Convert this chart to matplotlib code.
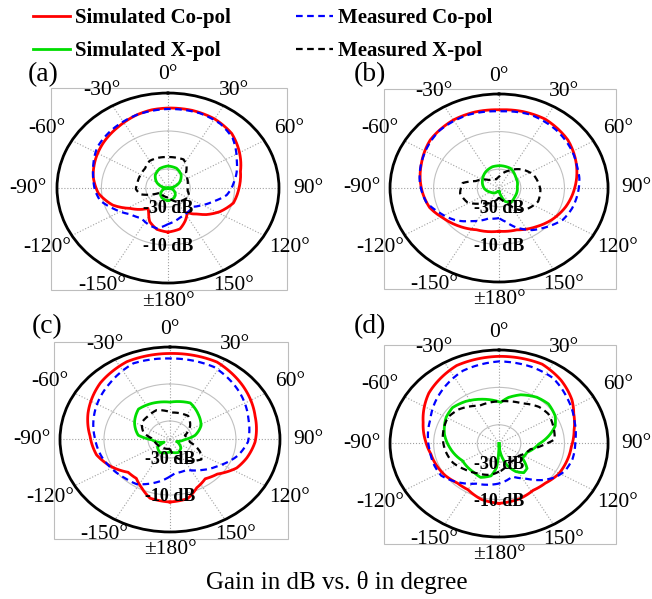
import numpy as np
import matplotlib
matplotlib.use("Agg")
import matplotlib.pyplot as plt
from matplotlib.lines import Line2D
from matplotlib.patches import Rectangle

plt.rcParams['font.family'] = 'serif'
plt.rcParams['font.serif'] = ['Liberation Serif', 'DejaVu Serif']

# angles in degree (0 = broadside, clockwise positive), gain in dB
# ---- (a)
a_sim_co_ang = [-180, -167, -155, -146, -140, -133, -122, -110, -95, -80, -65, -50, -35, -20, -10, 0,
                15, 30, 45, 60, 75, 90, 105, 118, 129, 136, 141, 146, 156, 166, 180]
a_sim_co_db = [-16.8, -17.7, -20.5, -24.5, -26, -23.5, -19.8, -13.6, -8.5, -5.8, -4.0, -2.3, -0.8, 1.0, 1.8, 2.1,
               2.3, 2.0, 0.6, -2.8, -6.2, -8.0, -9.5, -13.5, -17.8, -21, -22.5, -24.5, -21, -17.8, -16.8]
a_meas_co_ang = [-180, -167, -158, -143, -129, -114, -102, -92, -80, -70, -56, -40, -20, 0,
                 20, 35, 48, 64, 76, 84, 92, 98, 109, 120, 131, 145, 160, 170, 180]
a_meas_co_db = [-21, -18.2, -18.6, -20.1, -18.1, -13.2, -8.7, -7.1, -5.8, -4.2, -1.6, -0.3, 1.0, 1.6,
                1.9, 1.2, -0.8, -5.6, -8.2, -10.1, -11.8, -13.3, -18.4, -22, -25, -24.5, -23.6, -22.3, -21]
a_sim_x_ang = [-180, -160, -140, -120, -100, -90, -75, -60, -40, -20, 0, 20, 40, 60, 75, 90, 100, 120, 140, 160, 180]
a_sim_x_db = [-33.4, -33.8, -34.9, -36.7, -38.8, -40, -37, -34.2, -31.1, -29.1, -28.4, -28.9, -30.8, -34.0,
              -37, -40, -38.8, -36.7, -34.9, -33.8, -33.4]
a_meas_x_ang = [-180, -150, -125, -115, -105, -92, -80, -58, -45, -30, -15, 0, 15, 25, 35, 45, 60, 85,
                100, 115, 130, 150, 165, 180]
a_meas_x_db = [-35, -35.5, -36, -32, -27.2, -25.5, -26, -25.8, -25.4, -23.5, -23.5, -23.7, -23.6, -23.4,
               -25.5, -28.5, -30, -31.3, -31, -29.5, -30.5, -31.6, -33.5, -35]

# ---- (b)
b_sim_co_ang = [-180, -155, -137, -122, -108, -93, -70, -51, -30, -15, 0, 15, 30, 51, 72, 90, 108, 125, 140, 160, 180]
b_sim_co_db = [-17, -15.5, -12.5, -9.8, -6.5, -4.7, -2.1, 0.6, 1.8, 1.9, 1.6, 2.1, 2.3, 0.6, -2.6, -5.3,
               -7.8, -10.5, -13.2, -16.3, -17]
b_meas_co_ang = [-180, -163, -145, -130, -115, -103, -85, -65, -42, -20, 0, 20, 40, 60, 72, 82, 95, 108,
                 120, 132, 146, 160, 170, 180]
b_meas_co_db = [-24, -23, -18.5, -13.5, -9.5, -5.8, -3.5, -1.5, 1.0, 1.4, 0.8, 1.6, 0.5, -1.2, -2.4, -2.8,
                -3.8, -4.8, -6.2, -9.5, -13, -17.8, -21.7, -24]
b_sim_x_ang = [-180, -159, -140, -121, -92, -61, -35, -15, 4, 27, 51, 85, 122, 146, 159, 169, 180]
b_sim_x_db = [-38.2, -37.9, -36.5, -35.6, -33.2, -31.3, -29.4, -28.3, -28.1, -28.3, -30.3, -31.6, -31.4,
              -30.6, -32.4, -36.2, -38.2]
b_meas_x_ang = [-180, -160, -137, -118, -99, -81, -71, -47, -15, 0, 26, 47, 66, 93, 112, 128, 142, 153, 165, 180]
b_meas_x_db = [-35, -32, -28.9, -23.6, -21.9, -23.1, -28.7, -33.8, -35.2, -34, -29.7, -25.5, -22.7, -21,
               -20.7, -22.6, -25.2, -30, -33, -35]

# ---- (c)
c_sim_co_ang = [-180, -164, -154, -144, -133, -119, -104, -87, -69, -46, -25, 0, 27, 49, 72, 92, 106, 117,
                131, 143, 155, 166, 180]
c_sim_co_db = [-6.2, -7, -10.8, -14, -14, -9.6, -5.6, -3.6, -0.1, 4, 6.4, 6.5, 7, 4, 0.7, -1.3, -3.7, -6,
               -11.5, -13.4, -11.2, -7, -6.2]
c_meas_co_ang = [-180, -162, -148, -136, -121, -107, -89, -72, -42, -22, 0, 27, 52, 73, 92, 106, 123, 139,
                 155, 173, 180]
c_meas_co_db = [-20, -15.2, -11.5, -10.8, -9.2, -7.6, -5.9, -3.5, 0.9, 4.4, 3.8, 4, 0.5, -2.7, -4.5, -8,
                -13.8, -18.1, -21.9, -21.6, -20]
c_sim_x_ang = [-180, -147, -126, -118, -91, -81, -60, -41, -23, 0, 25, 43, 62, 79, 90, 109, 133, 152, 180]
c_sim_x_db = [-33.3, -31.6, -33, -37, -31.7, -25.4, -21.4, -18.2, -18.8, -19.8, -18.2, -21.2, -24, -28.4,
              -33.2, -36.8, -33.2, -32, -33.3]
c_meas_x_ang = [-180, -150, -121, -100, -85, -72, -54, -38, -21, 3, 33, 51, 72, 99, 116, 127, 142, 166, 180]
c_meas_x_db = [-35, -34.5, -33.8, -33, -31.5, -27.3, -24.2, -23.9, -23, -25.4, -24.8, -28.2, -32.9, -30.8,
               -24.8, -22.1, -25.2, -30.3, -35]

# ---- (d)
d_sim_co_ang = [-180, -165, -150, -138, -125, -112, -100, -88, -72, -50, -25, 0, 25, 40, 55, 65, 78, 93,
                108, 121, 135, 148, 162, 180]
d_sim_co_db = [-8, -9, -11.5, -11.5, -10, -9, -8.2, -6.3, -3.4, 2, 6, 6.6, 6.8, 4.2, 0.8, -2.2, -4.8, -6.8,
               -7.6, -8.2, -10, -10.5, -9, -8]
d_meas_co_ang = [-180, -154, -133, -123, -112, -97, -84, -68, -46, -23, 0, 20, 35, 52, 71, 88, 104, 116,
                 125, 135, 147, 161, 171, 180]
d_meas_co_db = [-18.6, -16.1, -10.8, -8.4, -8.1, -8, -7.2, -6, -2, 2.3, 3.9, 3.6, 2.9, -0.4, -3.4, -5, -5.3,
                -6.4, -8.5, -12.3, -17.7, -21.3, -19.8, -18.6]
d_sim_x_ang = [-180, -175, -168, -155, -144, -119, -95, -79, -60, -48, -34, -18, -4, 2, 10, 21, 35, 47, 60,
               70, 78, 91, 110, 126, 136, 144, 153, 162, 169, 180]
d_sim_x_db = [-40, -27.1, -22.3, -20, -20.7, -20.9, -17.2, -14.5, -12, -11.3, -12.8, -15.1, -17.1, -18, -15,
              -12.1, -9.8, -9, -10.3, -12.6, -16, -21.8, -26.3, -26.8, -21.5, -20.7, -23.2, -27.5, -32.3, -40]
d_meas_x_ang = [-180, -167, -148, -131, -116, -99, -83, -59, -45, -24, -2, 11, 26, 43, 55, 71, 85, 92, 102,
                126, 156, 177, 180]
d_meas_x_db = [-25, -22.8, -21.2, -19, -16.5, -15.1, -14, -12.7, -14.1, -17.9, -17.5, -17, -16.1, -13.2,
               -12.4, -13.6, -14.4, -19.5, -25.3, -28.8, -28.8, -25.3, -25]

panels = {
    '(a)': [(a_sim_co_ang, a_sim_co_db), (a_meas_co_ang, a_meas_co_db), (a_sim_x_ang, a_sim_x_db), (a_meas_x_ang, a_meas_x_db)],
    '(b)': [(b_sim_co_ang, b_sim_co_db), (b_meas_co_ang, b_meas_co_db), (b_sim_x_ang, b_sim_x_db), (b_meas_x_ang, b_meas_x_db)],
    '(c)': [(c_sim_co_ang, c_sim_co_db), (c_meas_co_ang, c_meas_co_db), (c_sim_x_ang, c_sim_x_db), (c_meas_x_ang, c_meas_x_db)],
    '(d)': [(d_sim_co_ang, d_sim_co_db), (d_meas_co_ang, d_meas_co_db), (d_sim_x_ang, d_sim_x_db), (d_meas_x_ang, d_meas_x_db)],
}

series_names = ['Simulated Co-pol', 'Measured Co-pol', 'Simulated X-pol', 'Measured X-pol']
tick_deg = [0, 30, 60, 90, 120, 150, 180, -150, -120, -90, -60, -30]
tick_txt = ['0°', '30°', '60°', '90°', '120°', '150°', '±180°', '-150°', '-120°', '-90°', '-60°', '-30°']

# line styles for the four series
styles = [dict(color='#ff0000', lw=2.0, ls='-'),
          dict(color='#0000ff', lw=1.6, ls=(0, (3, 2))),
          dict(color='#00dd00', lw=2.0, ls='-'),
          dict(color='#000000', lw=1.6, ls=(0, (3, 2)))]

fig = plt.figure(figsize=(6.52, 5.99), dpi=100)

# axes rectangles (figure fraction) and panel letter positions
rects = {'(a)': [0.0874, 0.5275, 0.3405, 0.3172],
         '(b)': [0.5982, 0.5292, 0.3344, 0.3139],
         '(c)': [0.0920, 0.1119, 0.3374, 0.3088],
         '(d)': [0.5982, 0.1035, 0.3344, 0.3122]}
letter_pos = {'(a)': (43, 75), '(b)': (370, 75), '(c)': (47, 327), '(d)': (370, 327)}

for key, curves in panels.items():
    ax = fig.add_axes(rects[key], projection='polar')
    ax.set_aspect('auto')
    ax.set_theta_zero_location('N')
    ax.set_theta_direction(-1)
    ax.set_ylim(-40, 10)

    for (ang, db), st in zip(curves, styles):
        line, = ax.plot(np.deg2rad(ang), db, **st, zorder=3)
        # draw segments along the polar grid instead of straight chords
        line.get_path()._interpolation_steps = 12

    ax.set_xticks(np.deg2rad(np.arange(0, 360, 30)))
    ax.set_xticklabels([])
    ax.set_yticks([-30, -10])
    ax.set_yticklabels([])
    ax.xaxis.grid(True, color='#a0a0a0', ls=':', lw=0.8)
    ax.yaxis.grid(True, color='#c0c0c0', ls='-', lw=0.8)
    ax.tick_params(axis='x', direction='in', length=5, width=1, color='black')
    ax.spines['polar'].set_linewidth(2)

    # angle labels outside the outer ring
    for d, t in zip(tick_deg, tick_txt):
        r = 23 if abs(d) in (60, 90, 120) else 19.5
        ax.text(np.deg2rad(d), r, t, ha='center', va='center', fontsize=15.5, clip_on=False)

    ax.text(np.pi, -29, '-30 dB', ha='center', va='center', fontsize=13, fontweight='bold', zorder=4)
    ax.text(np.pi, -9, '-10 dB', ha='center', va='center', fontsize=13, fontweight='bold', zorder=4)

    # light grey frame around each panel
    ax.add_artist(Rectangle((-0.027, -0.037), 1.062, 1.062, transform=ax.transAxes,
                            fill=False, ec='#bdbdbd', lw=0.8, clip_on=False, zorder=0))

    lx, ly = letter_pos[key]
    fig.text(lx / 652, 1 - ly / 599, key, ha='center', va='center', fontsize=20)

# legend at the top
handles = [Line2D([], [], **st) for st in styles]
order = [0, 2, 1, 3]
fig.legend([handles[i] for i in order], [series_names[i] for i in order],
           loc='upper left', bbox_to_anchor=(0.05, 0.986), ncol=2, frameon=False,
           prop=dict(size=15, weight='bold'), handlelength=1.8, handletextpad=0.25,
           columnspacing=3.1, labelspacing=0.6, borderpad=0, borderaxespad=0)

fig.text(337 / 652, 1 - 583 / 599, 'Gain in dB vs. θ in degree', ha='center', va='center', fontsize=18)

fig.savefig('out.png', dpi=100)
